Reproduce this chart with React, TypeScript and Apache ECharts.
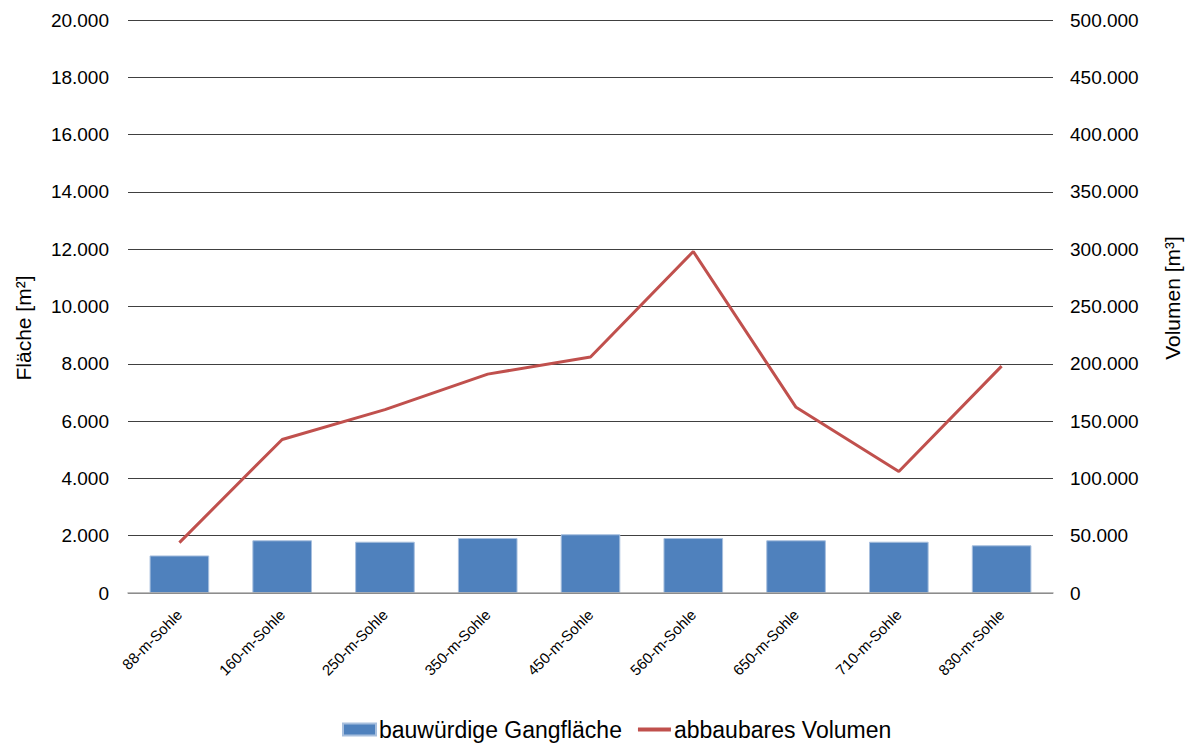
import React, { useEffect, useRef } from "react";
import * as echarts from "echarts";

const categories = ["88-m-Sohle", "160-m-Sohle", "250-m-Sohle", "350-m-Sohle", "450-m-Sohle", "560-m-Sohle", "650-m-Sohle", "710-m-Sohle", "830-m-Sohle"];
const flaeche = [1310, 1840, 1790, 1920, 2050, 1920, 1840, 1790, 1665];
const volumen = [44000, 134000, 160000, 191000, 206000, 298000, 162000, 106000, 198000];
const seriesNames = ["bauwürdige Gangfläche", "abbaubares Volumen"];
const axisNames = ["Fläche [m²]", "Volumen [m³]"];

const FONT = "'Liberation Sans', Arial, sans-serif";
const fmt = (v: number) => String(v).replace(/\B(?=(\d{3})+(?!\d))/g, ".");

export default function App() {
  const ref = useRef<HTMLDivElement>(null);
  useEffect(() => {
    if (!ref.current) return;
    const chart = echarts.init(ref.current, null, { renderer: "svg" });
    chart.setOption({
      animation: false,
      backgroundColor: "#ffffff",
      textStyle: { fontFamily: FONT, color: "#000" },
      grid: { left: 128, right: 134, top: 20, bottom: 153, containLabel: false },
      legend: {
        left: 337,
        top: 713,
        itemWidth: 33,
        itemHeight: 12,
        itemGap: 16,
        textStyle: { fontSize: 23, color: "#000", fontFamily: FONT, padding: [0, 0, 0, -2] },
        data: [
          { name: seriesNames[0], icon: "rect" },
          { name: seriesNames[1], icon: "path://M0,0 L35,0 L35,4 L0,4 Z", itemStyle: { color: "#C0504D" } },
        ],
      },
      xAxis: {
        type: "category",
        data: categories,
        z: 5,
        axisLine: { show: true, lineStyle: { color: "#a6a6a6", width: 1.5 } },
        axisTick: { show: false },
        axisLabel: { rotate: 45, fontSize: 15, color: "#000", margin: 19, fontFamily: FONT, interval: 0 },
      },
      yAxis: [
        {
          type: "value",
          min: 0,
          max: 20000,
          interval: 2000,
          axisLine: { show: false },
          axisTick: { show: false },
          splitLine: { show: true, lineStyle: { color: "#404040", width: 1 } },
          axisLabel: { formatter: fmt, fontSize: 19, color: "#000", margin: 19, fontFamily: FONT },
        },
        {
          type: "value",
          min: 0,
          max: 500000,
          interval: 50000,
          axisLine: { show: false },
          axisTick: { show: false },
          splitLine: { show: false },
          axisLabel: { formatter: fmt, fontSize: 19, color: "#000", margin: 17, fontFamily: FONT },
        },
      ],
      graphic: [
        {
          type: "text",
          x: 23,
          y: 328,
          rotation: Math.PI / 2,
          style: { text: axisNames[0], fontSize: 21, fill: "#000", font: `21px ${FONT}`, align: "center", verticalAlign: "middle" },
        },
        {
          type: "text",
          x: 1172,
          y: 298,
          rotation: Math.PI / 2,
          style: { text: axisNames[1], fontSize: 21, fill: "#000", font: `21px ${FONT}`, align: "center", verticalAlign: "middle" },
        },
      ],
      series: [
        {
          name: seriesNames[0],
          type: "bar",
          data: flaeche,
          yAxisIndex: 0,
          barWidth: "58%",
          itemStyle: { color: "#4F81BD", borderColor: "#a7bfde", borderWidth: 1 },
        },
        {
          name: seriesNames[1],
          type: "line",
          data: volumen,
          yAxisIndex: 1,
          symbol: "none",
          showSymbol: false,
          z: 6,
          lineStyle: { color: "#C0504D", width: 3 },
          itemStyle: { color: "#C0504D" },
        },
      ],
    });
    return () => chart.dispose();
  }, []);
  return <div ref={ref} style={{ position: "absolute", left: 0, top: 0, width: 1187, height: 746 }} />;
}
